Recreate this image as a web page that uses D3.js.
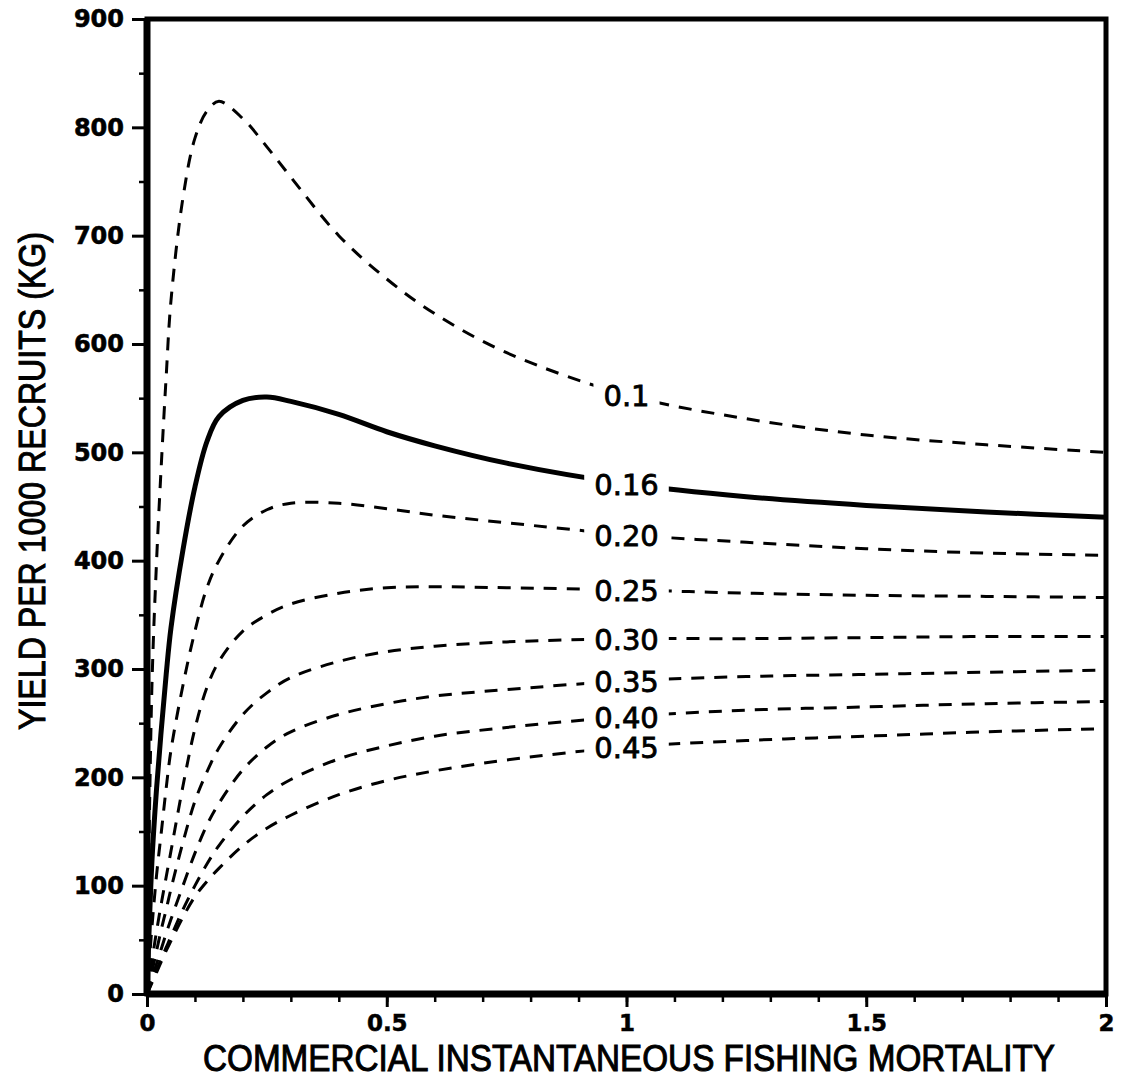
<!DOCTYPE html>
<html>
<head>
<meta charset="utf-8">
<script src="https://cdn.jsdelivr.net/npm/d3@7"></script>
<style>
  html, body { margin: 0; padding: 0; background: #fff; }
  svg { display: block; }
</style>
</head>
<body>
<div id="chart"></div>
<script>
// commercial fishing mortality (x)
const fishingMortality = [0, 0.01, 0.02, 0.03, 0.04, 0.05, 0.075, 0.1, 0.125, 0.15, 0.2, 0.25, 0.3, 0.4, 0.5, 0.6, 0.75, 1.0, 1.25, 1.5, 1.75, 2.0];

// yield per 1000 recruits (kg), one array per natural mortality
const yieldM010 = [0, 280, 400, 490, 570, 640, 735, 790, 815, 824, 808, 782, 754, 700, 660, 628, 592, 553, 531, 516, 507, 500];
const yieldM016 = [0, 120, 190, 245, 295, 338, 410, 468, 510, 533, 548, 551, 547, 535, 519, 506, 490, 471, 459, 451, 445, 440];
const yieldM020 = [0, 60, 110, 150, 190, 225, 285, 335, 375, 400, 432, 447, 453, 453, 448, 442, 435, 424, 417, 411, 407, 405];
const yieldM025 = [0, 30, 58, 84, 108, 132, 192, 245, 283, 307, 335, 350, 360, 370, 375, 376, 375, 373, 370, 368, 367, 366];
const yieldM030 = [0, 20, 40, 60, 78, 97, 140, 178, 205, 227, 258, 278, 292, 307, 316, 321, 325, 328, 328, 329, 330, 330];
const yieldM035 = [0, 14, 28, 42, 56, 69, 100, 130, 156, 176, 207, 228, 242, 258, 268, 275, 281, 289, 293, 295, 297, 299];
const yieldM040 = [0, 11, 22, 33, 43, 53, 78, 100, 120, 137, 164, 184, 198, 217, 229, 238, 246, 256, 262, 265, 268, 270];
const yieldM045 = [0, 10, 20, 30, 40, 49, 71, 90, 104, 116, 137, 153, 165, 184, 197, 206, 216, 228, 234, 238, 242, 245];

const curveLabels = ["0.1", "0.16", "0.20", "0.25", "0.30", "0.35", "0.40", "0.45"];
const labelAtF = 1.0;

const xTicks = [0, 0.5, 1, 1.5, 2];
const xTickLabels = ["0", "0.5", "1", "1.5", "2"];
const yTicks = [0, 100, 200, 300, 400, 500, 600, 700, 800, 900];

const series = [yieldM010, yieldM016, yieldM020, yieldM025, yieldM030, yieldM035, yieldM040, yieldM045].map((values, i) => ({
  label: curveLabels[i],
  solid: curveLabels[i] === "0.16",
  points: values.map((v, j) => ({ f: fishingMortality[j], y: v })),
}));

const width = 1124;
const height = 1079;
const margin = { top: 19, right: 18, bottom: 85, left: 147 };

const x = d3.scaleLinear().domain([0, 2]).range([margin.left, width - margin.right]);
const y = d3.scaleLinear().domain([0, 900]).range([height - margin.bottom, margin.top]);

const svg = d3.select("#chart")
  .append("svg")
  .attr("width", width)
  .attr("height", height)
  .attr("viewBox", [0, 0, width, height]);

const line = d3.line()
  .x((d) => x(d.f))
  .y((d) => y(d.y))
  .curve(d3.curveCatmullRom.alpha(0.5));

// curves
svg.append("g")
  .attr("fill", "none")
  .attr("stroke", "#000")
  .attr("stroke-linecap", "butt")
  .selectAll("path")
  .data(series)
  .join("path")
  .attr("stroke-width", (d) => (d.solid ? 5 : 3))
  .attr("stroke-dasharray", (d) => (d.solid ? null : "13 10"))
  .attr("d", (d) => line(d.points));

// curve labels, sitting in a gap of the line
const labelFont = 29;
const labels = svg.append("g")
  .selectAll("g")
  .data(series)
  .join("g")
  .attr("transform", (d) => {
    const p = d.points.find((e) => e.f === labelAtF);
    return `translate(${x(labelAtF)},${y(p.y)})`;
  });
labels.append("text")
  .attr("text-anchor", "middle")
  .attr("y", Math.round(labelFont * 0.729 / 2))
  .attr("font-family", "DejaVu Sans, sans-serif")
  .attr("font-size", labelFont)
  .attr("fill", "#000")
  .attr("stroke", "#000")
  .attr("stroke-width", 0.8)
  .text((d) => d.label)
  .each(function () {
    const b = this.getBBox();
    d3.select(this.parentNode)
      .insert("rect", "text")
      .attr("x", b.x - 10)
      .attr("y", -12)
      .attr("width", b.width + 20)
      .attr("height", 24)
      .attr("fill", "#fff");
  });

// axes
svg.append("g")
  .attr("transform", `translate(0,${y(0)})`)
  .call(d3.axisBottom(x).tickValues(d3.range(0, 2.0001, 0.1)).tickSize(8).tickFormat(""))
  .call((g) => g.select(".domain").remove())
  .call((g) => g.selectAll(".tick line").attr("stroke", "#000").attr("stroke-width", 2.5));
svg.append("g")
  .attr("transform", `translate(0,${y(0)})`)
  .call(d3.axisBottom(x).tickValues(xTicks).tickSize(13).tickPadding(8).tickFormat((d, i) => xTickLabels[i]))
  .attr("font-size", null)
  .attr("font-family", null)
  .call((g) => g.select(".domain").remove())
  .call((g) => g.selectAll(".tick line").attr("stroke", "#000").attr("stroke-width", 3))
  .call((g) => g.selectAll(".tick text")
    .attr("fill", "#000")
    .attr("stroke", "#000")
    .attr("stroke-width", 0.5)
    .attr("font-family", "DejaVu Sans, sans-serif")
    .attr("font-weight", "bold")
    .attr("font-size", 23));

svg.append("g")
  .attr("transform", `translate(${x(0)},0)`)
  .call(d3.axisLeft(y).tickValues(d3.range(50, 900, 100)).tickSize(8).tickFormat(""))
  .call((g) => g.select(".domain").remove())
  .call((g) => g.selectAll(".tick line").attr("stroke", "#000").attr("stroke-width", 2.5));
svg.append("g")
  .attr("transform", `translate(${x(0)},0)`)
  .call(d3.axisLeft(y).tickValues(yTicks).tickSize(15).tickPadding(8))
  .attr("font-size", null)
  .attr("font-family", null)
  .call((g) => g.select(".domain").remove())
  .call((g) => g.selectAll(".tick line").attr("stroke", "#000").attr("stroke-width", 3))
  .call((g) => g.selectAll(".tick text")
    .attr("fill", "#000")
    .attr("stroke", "#000")
    .attr("stroke-width", 0.6)
    .attr("font-family", "DejaVu Sans, sans-serif")
    .attr("font-weight", "bold")
    .attr("font-size", 24));

// frame
svg.append("rect")
  .attr("x", x(0))
  .attr("y", y(900))
  .attr("width", x(2) - x(0))
  .attr("height", y(0) - y(900))
  .attr("fill", "none")
  .attr("stroke", "#000")
  .attr("stroke-width", 5);
svg.append("line")
  .attr("x1", x(0)).attr("x2", x(0))
  .attr("y1", y(900)).attr("y2", y(0))
  .attr("stroke", "#000").attr("stroke-width", 7);
svg.append("line")
  .attr("x1", x(0)).attr("x2", x(2))
  .attr("y1", y(0)).attr("y2", y(0))
  .attr("stroke", "#000").attr("stroke-width", 7);

// axis titles
svg.append("text")
  .attr("x", 629)
  .attr("y", 1071)
  .attr("text-anchor", "middle")
  .attr("font-family", "Liberation Sans, Arial, sans-serif")
  .attr("font-size", 36)
  .attr("stroke", "#000")
  .attr("stroke-width", 1)
  .attr("textLength", 852)
  .attr("lengthAdjust", "spacingAndGlyphs")
  .text("COMMERCIAL INSTANTANEOUS FISHING MORTALITY");

svg.append("text")
  .attr("transform", "translate(45,481) rotate(-90)")
  .attr("text-anchor", "middle")
  .attr("font-family", "Liberation Sans, Arial, sans-serif")
  .attr("font-size", 37)
  .attr("stroke", "#000")
  .attr("stroke-width", 1)
  .attr("textLength", 498)
  .attr("lengthAdjust", "spacingAndGlyphs")
  .text("YIELD PER 1000 RECRUITS (KG)");
</script>
</body>
</html>
